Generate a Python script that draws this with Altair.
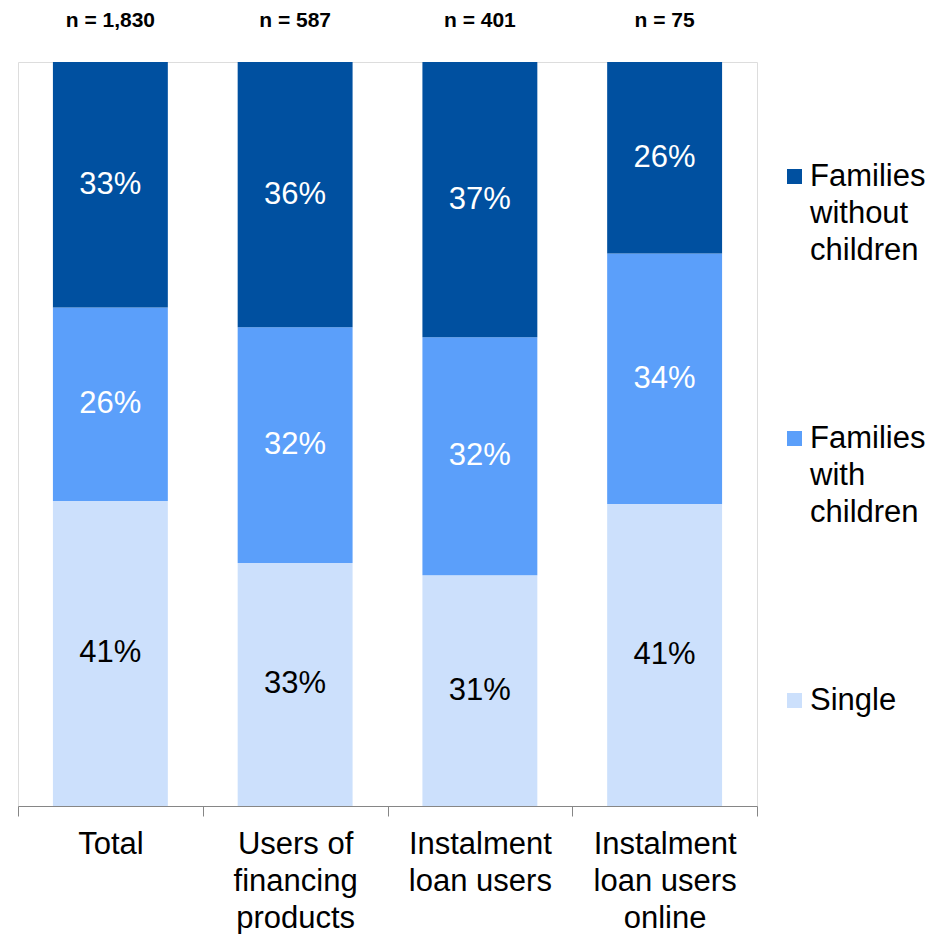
import altair as alt
import pandas as pd

categories = ["Total", "Users of|financing|products", "Instalment|loan users", "Instalment|loan users|online"]
n_labels = ["n = 1,830", "n = 587", "n = 401", "n = 75"]
segments = ["Single", "Families with children", "Families without children"]
single = [41, 33, 31, 41]
with_children = [26, 32, 32, 34]
without_children = [33, 36, 37, 26]

legend_order = ["Families without children", "Families with children", "Single"]
legend_colors = ["#0050A0", "#5B9FFA", "#CCE0FC"]

rows = []
for i, c in enumerate(categories):
    for j, (s, vals) in enumerate(zip(segments, [single, with_children, without_children])):
        rows.append({"cat": c, "seg": s, "order": j, "value": vals[i]})
df = pd.DataFrame(rows)
ndf = pd.DataFrame({"cat": categories, "n": n_labels})

FONT = "Liberation Sans"

xscale = alt.Scale(paddingInner=0, paddingOuter=0)
x = alt.X("cat:N", sort=categories, title=None, scale=xscale,
          axis=alt.Axis(labelAngle=0, labelFontSize=31, labelFont=FONT, labelColor="#000000",
                        labelExpr="split(datum.label, '|')", labelLineHeight=37,
                        labelBaseline="top", labelPadding=13,
                        domainColor="#868686", tickColor="#868686", tickSize=10,
                        tickBand="extent", labelLimit=300))

base = alt.Chart(df).transform_stack(
    stack="value", groupby=["cat"], as_=["y0", "y1"], offset="normalize",
    sort=[alt.SortField("order", order="ascending")]
).transform_calculate(
    ymid="(datum.y0 + datum.y1) / 2",
    label="datum.value + '%'"
)

yscale = alt.Scale(domain=[0, 1])

bars = base.mark_bar(stroke=None, width=alt.RelativeBandSize(0.622)).encode(
    x=x,
    y=alt.Y("y0:Q", scale=yscale, axis=None),
    y2="y1:Q",
    color=alt.Color("seg:N", scale=alt.Scale(domain=legend_order, range=legend_colors),
                    legend=alt.Legend(title=None, orient="none", legendX=761, legendY=99,
                                      symbolType="square", symbolSize=225, symbolStrokeWidth=0,
                                      labelFontSize=31, labelFont=FONT, labelColor="#000000",
                                      labelExpr="split(datum.label, ' ')",
                                      labelOffset=0, rowPadding=156, padding=0,
                                      labelBaseline="middle", labelLimit=300))
)

texts = base.mark_text(fontSize=31, font=FONT, baseline="middle").encode(
    x=alt.X("cat:N", sort=categories, scale=xscale),
    y=alt.Y("ymid:Q", scale=yscale),
    text="label:N",
    color=alt.condition(alt.datum.seg == "Single", alt.value("#000000"), alt.value("#FFFFFF"))
)

ntext = alt.Chart(ndf).mark_text(fontSize=21, font=FONT, fontWeight="bold", baseline="middle").encode(
    x=alt.X("cat:N", sort=categories, scale=xscale),
    y=alt.value(-41),
    text="n:N"
)

chart = alt.layer(bars, texts, ntext).properties(
    width=739, height=744,
    padding={"left": 10, "top": 54, "right": 175, "bottom": 128},
    autosize=alt.AutoSizeParams(type="none")
).configure_view(stroke=None).configure(
    style={"guide-label": {"lineHeight": 37}}
)

chart.save("out.html", embed_options={"renderer": "svg", "actions": False})
